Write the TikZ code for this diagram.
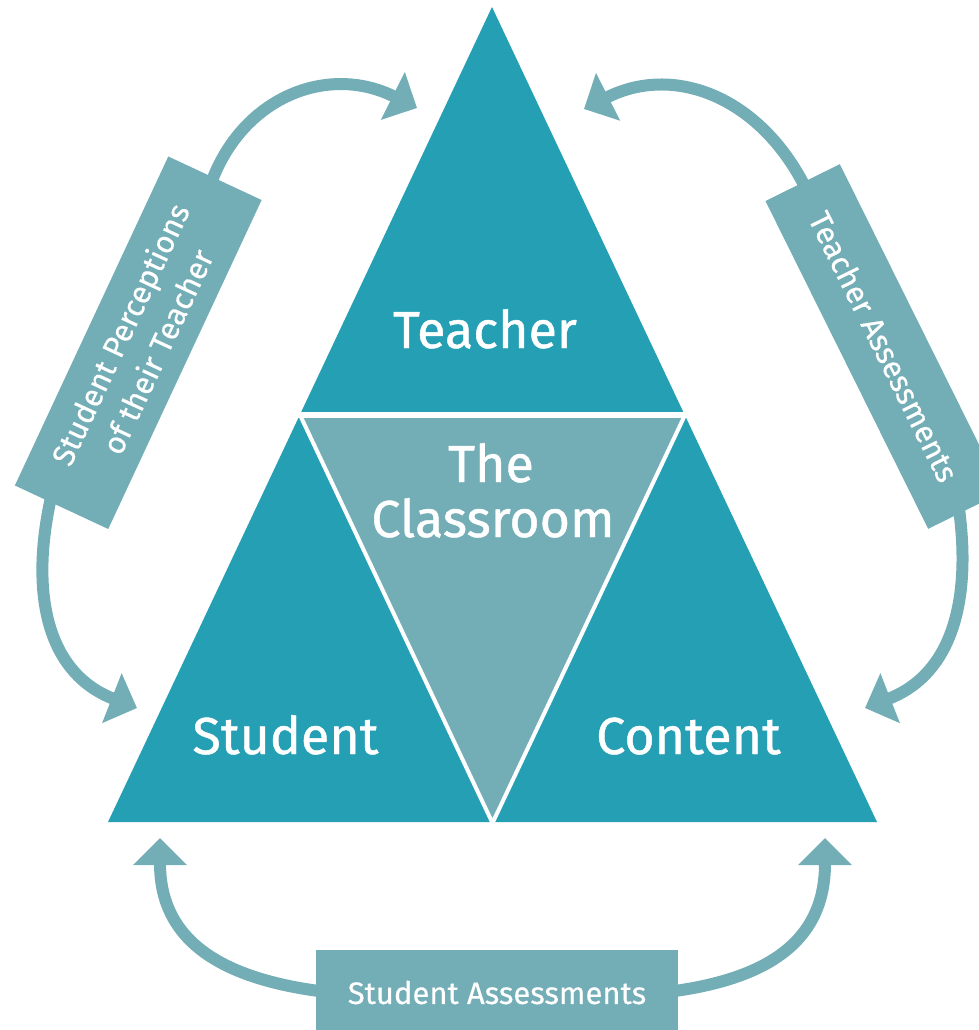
\documentclass[tikz,border=0pt]{standalone}
\usepackage{fontspec}
\setmainfont{Fira Sans}
\newfontfamily\labelfont[FakeBold=0.8]{Fira Sans}
\newfontfamily\tagfont[FakeBold=0.4]{Fira Sans}
\usetikzlibrary{arrows.meta,calc}
\definecolor{tealdark}{RGB}{37,159,179}
\definecolor{teallight}{RGB}{115,174,183}
\pgfdeclarelayer{bg}
\pgfsetlayers{bg,main}
\begin{document}
\begin{tikzpicture}[x=1pt,y=-1pt,
  bigtext/.style={text=white,font=\labelfont\fontsize{52}{56}\selectfont,inner sep=0pt,anchor=base},
  tag/.style={fill=teallight,text=white,font=\tagfont\fontsize{31}{41}\selectfont,align=center,inner sep=0pt},
  flow/.style={draw=teallight,line width=12pt,-{Triangle[length=27pt,width=52pt]}},
  gap/.style={draw=white,line width=4pt}]
\useasboundingbox (0,0) rectangle (979,1030);
% triangles
\fill[tealdark] (492,7) -- (108,822) -- (877,822) -- cycle;
\fill[teallight] (300,415) -- (685,415) -- (492.5,823) -- cycle;
\draw[white,line width=6pt] (290,415) -- (695,415);
\draw[gap] (300,415) -- (492.5,823) -- (685,415);
% labels
\node[bigtext] (teacher) at (485,348) {Teacher};
\node[bigtext] (the) at (491,482) {The};
\node[bigtext] (classroom) at (493,537) {Classroom};
\node[bigtext] (student) at (285.5,754) {Student};
\node[bigtext] (content) at (688.5,754) {Content};
% boxes
\node[tag,minimum width=363pt,minimum height=103pt,rotate=65] (spt) at (138.25,342.75) {Student Perceptions\\of their Teacher};
\node[tag,minimum width=366pt,minimum height=83pt,rotate=-63.6] (ta) at (884,346.5) {Teacher Assessments};
\node[tag,minimum width=362pt,minimum height=85pt] (sa) at (497,992.5) {Student Assessments};
% arrow targets
\coordinate (tipTL) at (417,108);
\coordinate (tipTR) at (584,109);
\coordinate (tipSL) at (137,708);
\coordinate (tipCR) at (865,708);
\coordinate (tipBL) at (160,838);
\coordinate (tipBR) at (825,838);
\begin{pgfonlayer}{bg}
\draw[flow] ($(spt.east)!0.1!(spt.center)$) .. controls (235,100) and (325,62) .. (tipTL);
\draw[flow] ($(spt.west)+(-10,-12)$) .. controls (30,590) and (45,672) .. (tipSL);
\draw[flow] ($(ta.west)!0.1!(ta.center)$) .. controls (767,100) and (677,62) .. (tipTR);
\draw[flow] ($(ta.east)+(-8,-12)$) .. controls (972,590) and (957,672) .. (tipCR);
\draw[flow] ($(sa.west)+(15,0)$) .. controls (220,980) and (160,940) .. (tipBL);
\draw[flow] ($(sa.east)+(-15,0)$) .. controls (770,980) and (825,940) .. (tipBR);
\end{pgfonlayer}
\end{tikzpicture}
\end{document}
